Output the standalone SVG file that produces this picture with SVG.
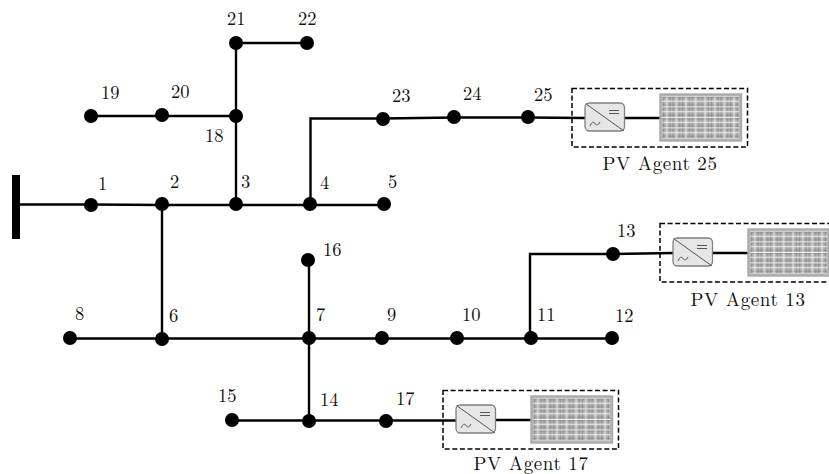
<svg xmlns="http://www.w3.org/2000/svg" width="829" height="474" viewBox="0 0 829 474">
<style>
.w{fill:none;stroke:#000;stroke-width:2.4}
.n{fill:#000}
.t{font-family:"Latin Modern Roman","Liberation Serif","Times New Roman",serif;font-size:18.5px;fill:#111}
.l{font-size:19px;letter-spacing:.6px;text-anchor:middle}
.d{fill:none;stroke:#000;stroke-width:1.5;stroke-dasharray:5 2.6}
.c{fill:#e6e6e6;stroke:#808080;stroke-width:1.3}
.g{fill:none;stroke:#555;stroke-width:1}
.p{fill:#b4b4b4;stroke:#a8a8a8;stroke-width:1.4}
.pl{fill:none;stroke:#ececec;stroke-width:1}
.pd{fill:none;stroke:#808080;stroke-width:.7}
</style>
<defs>
<pattern id="cells" patternUnits="userSpaceOnUse" x="662" y="96" width="9.6" height="10.5">
<rect width="9.6" height="10.500" fill="#b8b8b8"/>
<path class="pd" d="M1.600 0V10.500M8 0V10.500M0 1.800H9.600M0 8.700H9.600"/>
<path class="pl" d="M4.800 0V10.500M0 5.200H9.600M0 .5H9.600"/>
</pattern>
<g id="agent">
<rect class="d" x="572" y="88.500" width="175.500" height="58.500"/>
<path class="w" d="M624 118H660"/>
<rect class="c" x="585" y="103" width="39.500" height="28" rx="4.500"/>
<path class="g" d="M585.500 103.500L624 131M609 110.500H619M609 113.500H619"/>
<path class="g" d="M590 126Q592.500 120 595 123.500T600 122"/>
<rect class="p" x="660" y="94" width="81.500" height="47"/>
<rect x="662.500" y="96.500" width="76.500" height="42" fill="url(#cells)"/>
</g>
</defs>
<g id="connectors">
<path class="w" d="M20 204.500H91L162 205H384"/>
<path class="w" d="M162 204V339"/>
<path class="w" d="M236 43V204"/>
<path class="w" d="M236 43H307"/>
<path class="w" d="M91 116H236"/>
<path class="w" d="M310.500 204V118.500H383L454 117.500H528L586 118"/>
<path class="w" d="M70 338.500H612"/>
<path class="w" d="M309 260V421"/>
<path class="w" d="M232 420.500H457"/>
<path class="w" d="M530 338V254H613L674 253"/>
</g>
<rect id="source-bar" x="12" y="175" width="8" height="64" fill="#000"/>
<g id="node1"><circle class="n" cx="91" cy="205" r="7"/><text class="t" x="98" y="190">1</text></g>
<g id="node2"><circle class="n" cx="162" cy="204" r="7"/><text class="t" x="170" y="188">2</text></g>
<g id="node3"><circle class="n" cx="236" cy="204" r="7"/><text class="t" x="241" y="188">3</text></g>
<g id="node4"><circle class="n" cx="310" cy="204" r="7"/><text class="t" x="320" y="189">4</text></g>
<g id="node5"><circle class="n" cx="384" cy="204" r="7"/><text class="t" x="388" y="188">5</text></g>
<g id="node6"><circle class="n" cx="162" cy="339" r="7"/><text class="t" x="169" y="322">6</text></g>
<g id="node7"><circle class="n" cx="309" cy="338" r="7"/><text class="t" x="316" y="321">7</text></g>
<g id="node8"><circle class="n" cx="70" cy="338" r="7"/><text class="t" x="75" y="320">8</text></g>
<g id="node9"><circle class="n" cx="382" cy="338" r="7"/><text class="t" x="387" y="321">9</text></g>
<g id="node10"><circle class="n" cx="457" cy="338" r="7"/><text class="t" x="462" y="321">10</text></g>
<g id="node11"><circle class="n" cx="531" cy="338" r="7"/><text class="t" x="537" y="321">11</text></g>
<g id="node12"><circle class="n" cx="612" cy="338" r="7"/><text class="t" x="615" y="322">12</text></g>
<g id="node13"><circle class="n" cx="613" cy="254" r="7"/><text class="t" x="617" y="237">13</text></g>
<g id="node14"><circle class="n" cx="309" cy="421" r="7"/><text class="t" x="320" y="406">14</text></g>
<g id="node15"><circle class="n" cx="232" cy="420" r="7"/><text class="t" x="218" y="402">15</text></g>
<g id="node16"><circle class="n" cx="308" cy="260" r="7"/><text class="t" x="323" y="256">16</text></g>
<g id="node17"><circle class="n" cx="386" cy="421" r="7"/><text class="t" x="396" y="405">17</text></g>
<g id="node18"><circle class="n" cx="236" cy="116" r="7"/><text class="t" x="205" y="142">18</text></g>
<g id="node19"><circle class="n" cx="91" cy="116" r="7"/><text class="t" x="101" y="99">19</text></g>
<g id="node20"><circle class="n" cx="162" cy="115" r="7"/><text class="t" x="171" y="98">20</text></g>
<g id="node21"><circle class="n" cx="236" cy="43" r="7"/><text class="t" x="227" y="25">21</text></g>
<g id="node22"><circle class="n" cx="307" cy="43" r="7"/><text class="t" x="298" y="25">22</text></g>
<g id="node23"><circle class="n" cx="383" cy="119" r="7"/><text class="t" x="392" y="102">23</text></g>
<g id="node24"><circle class="n" cx="454" cy="117" r="7"/><text class="t" x="463" y="100">24</text></g>
<g id="node25"><circle class="n" cx="528" cy="117" r="7"/><text class="t" x="534" y="101">25</text></g>
<g id="agent25"><use href="#agent"/><text class="t l" x="660" y="170">PV Agent 25</text></g>
<g id="agent13"><use href="#agent" transform="translate(88 135)"/><text class="t l" x="748" y="306">PV Agent 13</text></g>
<g id="agent17"><use href="#agent" transform="translate(-129 302)"/><text class="t l" x="531" y="469.500">PV Agent 17</text></g>
</svg>
